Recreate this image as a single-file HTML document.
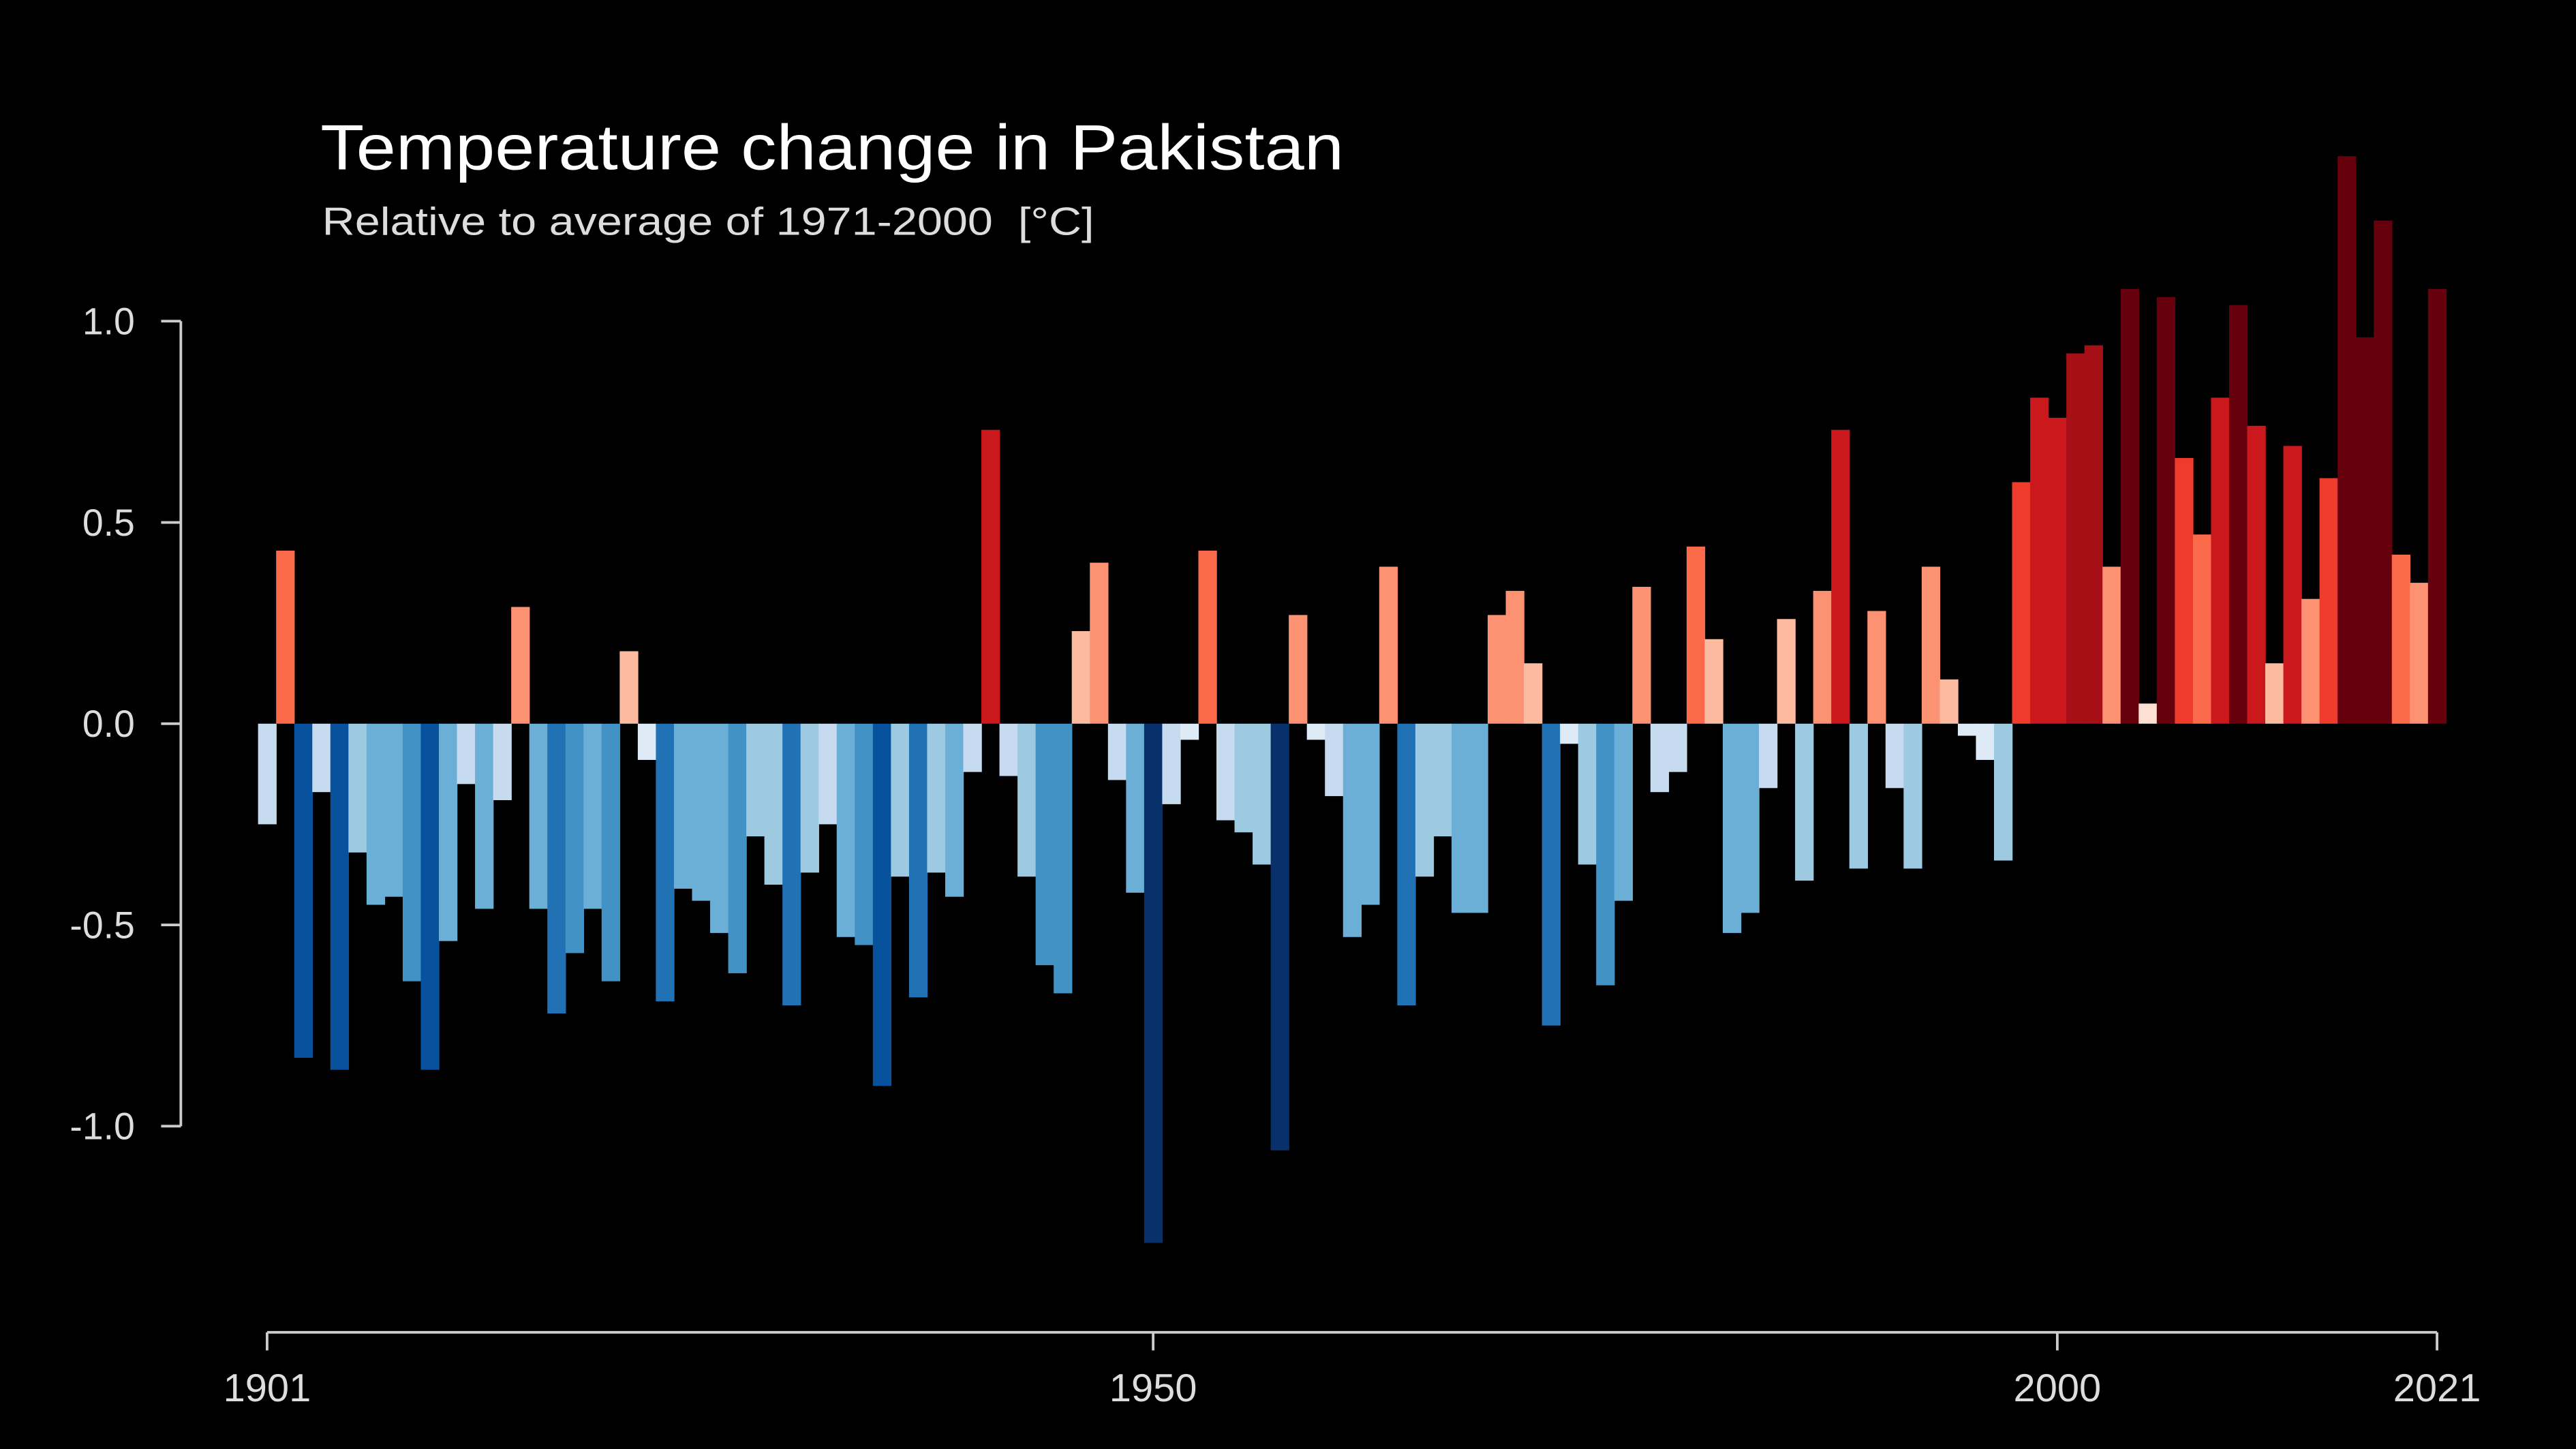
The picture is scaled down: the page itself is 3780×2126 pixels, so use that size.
<!DOCTYPE html>
<html><head><meta charset="utf-8"><style>
html,body{margin:0;padding:0;background:#000;width:3780px;height:2126px;overflow:hidden}
svg{display:block}
text{font-family:"Liberation Sans",sans-serif}
</style></head><body>
<svg id="chart" width="3780" height="2126" viewBox="0 0 1568 882" xmlns="http://www.w3.org/2000/svg">
<rect x="0" y="0" width="1568" height="882" fill="#000"/>
<text x="195" y="103" fill="#fff" font-size="39" textLength="623" lengthAdjust="spacingAndGlyphs">Temperature change in Pakistan</text>
<text x="196" y="143" fill="#ddd" font-size="24" textLength="470" lengthAdjust="spacingAndGlyphs" xml:space="preserve">Relative to average of 1971-2000  [°C]</text>
<g id="bars"></g>
<g id="yaxis"></g>
<g id="xaxis"></g>
</svg>
<script>
const startYear = 1901;
const anomalies = [
-0.25,0.43,-0.83,-0.17,-0.86,-0.32,-0.45,-0.43,-0.64,-0.86,
-0.54,-0.15,-0.46,-0.19,0.29,-0.46,-0.72,-0.57,-0.46,-0.64,
0.18,-0.09,-0.69,-0.41,-0.44,-0.52,-0.62,-0.28,-0.40,-0.70,
-0.37,-0.25,-0.53,-0.55,-0.90,-0.38,-0.68,-0.37,-0.43,-0.12,
0.73,-0.13,-0.38,-0.60,-0.67,0.23,0.40,-0.14,-0.42,-1.29,
-0.20,-0.04,0.43,-0.24,-0.27,-0.35,-1.06,0.27,-0.04,-0.18,
-0.53,-0.45,0.39,-0.70,-0.38,-0.28,-0.47,-0.47,0.27,0.33,
0.15,-0.75,-0.05,-0.35,-0.65,-0.44,0.34,-0.17,-0.12,0.44,
0.21,-0.52,-0.47,-0.16,0.26,-0.39,0.33,0.73,-0.36,0.28,
-0.16,-0.36,0.39,0.11,-0.03,-0.09,-0.34,0.60,0.81,0.76,
0.92,0.94,0.39,1.08,0.05,1.06,0.66,0.47,0.81,1.04,
0.74,0.15,0.69,0.31,0.61,1.41,0.96,1.25,0.42,0.35,1.08];
const yTicks = [1.0,0.5,0.0,-0.5,-1.0];
const yTickLabels = ["1.0","0.5","0.0","-0.5","-1.0"];
const xTicks = [1901,1950,2000,2021];

const NS="http://www.w3.org/2000/svg";
const x0=162.5, x1=1483.5, y0=440.5, yPerUnit=245;
const xScale = yr => x0 + (yr-1901)*(x1-x0)/120;
const yScale = v => y0 - v*yPerUnit;
const bw = (x1-x0)/120;
const reds=["#fee0d2","#fcbba1","#fc9272","#fb6a4a","#ef3b2c","#cb181d","#a50f15","#67000d"];
const blues=["#deebf7","#c6dbef","#9ecae1","#6baed6","#4292c6","#2171b5","#08519c","#08306b"];
const bounds=[0.1,0.27,0.41,0.55,0.68,0.82,0.95];
function color(v){const a=Math.abs(v);let i=0;while(i<bounds.length&&a>=bounds[i])i++;return v>=0?reds[i]:blues[i];}
function mk(tag,attrs,parent){const e=document.createElementNS(NS,tag);for(const k in attrs)e.setAttribute(k,attrs[k]);parent.appendChild(e);return e;}

const gb=document.getElementById('bars');
anomalies.forEach((v,i)=>{
  const yr=startYear+i;
  const cx=xScale(yr);
  const top=Math.min(yScale(v),yScale(0)), h=Math.abs(yScale(v)-yScale(0));
  const r=mk('rect',{x:cx-bw/2,y:top,width:bw+0.3,height:h,fill:color(v)},gb);
  
  
});

const gy=document.getElementById('yaxis');
const yl=mk('line',{x1:110,x2:110,y1:yScale(1),y2:yScale(-1),stroke:"#ccc","stroke-width":1.6},gy);


yTicks.forEach((t,i)=>{
  const tk=mk('line',{x1:98,x2:110,y1:yScale(t),y2:yScale(t),stroke:"#ccc","stroke-width":1.6},gy);
  
  
  const tx=mk('text',{x:82,y:yScale(t)+8,fill:"#ddd","font-size":23,"text-anchor":"end"},gy);
  tx.textContent=yTickLabels[i];
  
  
});

const gx=document.getElementById('xaxis');
const xl=mk('line',{x1:xScale(1901),x2:xScale(2021),y1:811,y2:811,stroke:"#ccc","stroke-width":1.6},gx);


xTicks.forEach(t=>{
  const tk=mk('line',{x1:xScale(t),x2:xScale(t),y1:811,y2:822,stroke:"#ccc","stroke-width":1.6},gx);
  
  
  const tx=mk('text',{x:xScale(t),y:853,fill:"#ddd","font-size":24,"text-anchor":"middle"},gx);
  tx.textContent=String(t);
  
  
});
</script>
</body></html>
